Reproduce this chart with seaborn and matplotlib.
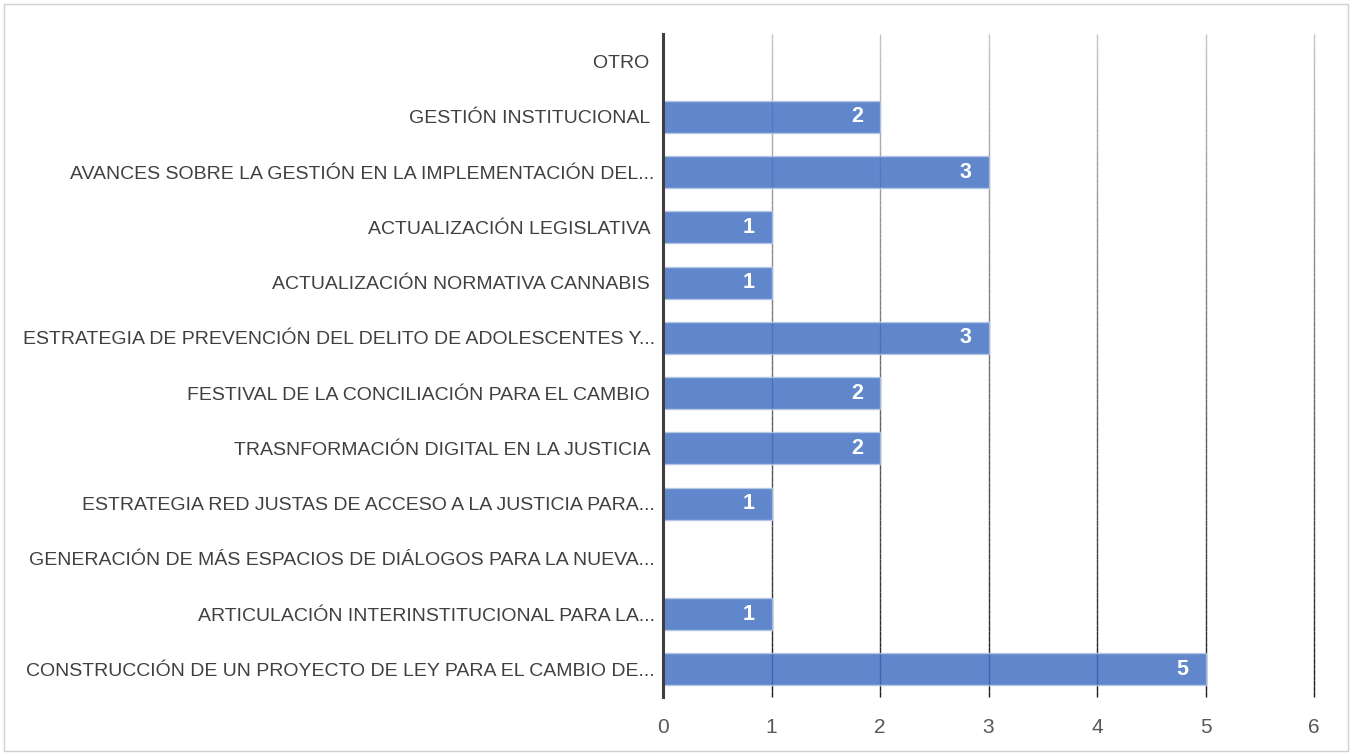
import numpy as np
import pandas as pd
import matplotlib
matplotlib.use("Agg")
import matplotlib.pyplot as plt
from matplotlib.collections import LineCollection
from matplotlib.patches import Rectangle
import seaborn as sns

categories = [
    "OTRO ",
    "GESTIÓN INSTITUCIONAL ",
    "AVANCES SOBRE LA GESTIÓN EN LA IMPLEMENTACIÓN DEL...",
    "ACTUALIZACIÓN LEGISLATIVA ",
    "ACTUALIZACIÓN NORMATIVA CANNABIS ",
    "ESTRATEGIA DE PREVENCIÓN DEL DELITO DE ADOLESCENTES Y...",
    "FESTIVAL DE LA CONCILIACIÓN PARA EL CAMBIO ",
    "TRASNFORMACIÓN DIGITAL EN LA JUSTICIA ",
    "ESTRATEGIA RED JUSTAS DE ACCESO A LA JUSTICIA PARA...",
    "GENERACIÓN DE MÁS ESPACIOS DE DIÁLOGOS PARA LA NUEVA...",
    "ARTICULACIÓN INTERINSTITUCIONAL PARA LA...",
    "CONSTRUCCIÓN DE UN PROYECTO DE LEY PARA EL CAMBIO DE...",
]
values = [0, 2, 3, 1, 1, 3, 2, 2, 1, 0, 1, 5]
x_ticks = [0, 1, 2, 3, 4, 5, 6]

sns.set_theme(style="white")
plt.rcParams["font.family"] = ["Liberation Sans", "DejaVu Sans"]

df = pd.DataFrame({"tema": categories, "n": values})

fig = plt.figure(figsize=(13.52, 7.55), dpi=100)
ax = fig.add_axes([0.4904, 0.0768, 0.4815, 0.8782])

sns.barplot(data=df, y="tema", x="n", orient="h", ax=ax,
            color="#4472C4", saturation=1, alpha=0.85, width=0.58,
            edgecolor="#B4C7E7", linewidth=1.0, zorder=3)

ax.set_xlim(0, 6)
ax.set_ylim(len(categories) - 0.5, -0.5)
ax.set_xticks(x_ticks)
ax.set_xticklabels([str(t) for t in x_ticks])
ax.set_xlabel("")
ax.set_ylabel("")

# vertical gridlines shading from light grey at the top to near black at the bottom
y0, y1 = -0.5, len(categories) - 0.5
n_seg = 120
ys = np.linspace(y0, y1, n_seg + 1)
shade = np.linspace(0.76, 0.10, n_seg)
for t in x_ticks[1:]:
    segs = [[(t, ys[i]), (t, ys[i + 1])] for i in range(n_seg)]
    cols = [(s, s, s) for s in shade]
    lc = LineCollection(segs, colors=cols, linewidths=1.0, zorder=1)
    lc.set_clip_on(False)
    ax.add_collection(lc)

for side in ["top", "right", "bottom"]:
    ax.spines[side].set_visible(False)
ax.spines["left"].set_color("#404040")
ax.spines["left"].set_linewidth(2.2)
ax.spines["left"].set_zorder(4)

ax.tick_params(axis="y", length=0, pad=6, labelsize=14.0, labelcolor="#404040")
ax.tick_params(axis="x", length=0, pad=15, labelsize=15, labelcolor="#595959")

for i, v in enumerate(values):
    if v > 0:
        ax.annotate(str(v), xy=(v, i), xytext=(-16.5, 0), textcoords="offset points",
                    ha="center", va="center", color="white", fontsize=15.5,
                    fontweight="bold", zorder=5)

fig.add_artist(Rectangle((4 / 1352, 4 / 755), 1344 / 1352, 747 / 755,
                         transform=fig.transFigure, fill=False,
                         edgecolor="#D0D0D0", linewidth=1.0))

fig.savefig("out.png", dpi=100, facecolor="white")
